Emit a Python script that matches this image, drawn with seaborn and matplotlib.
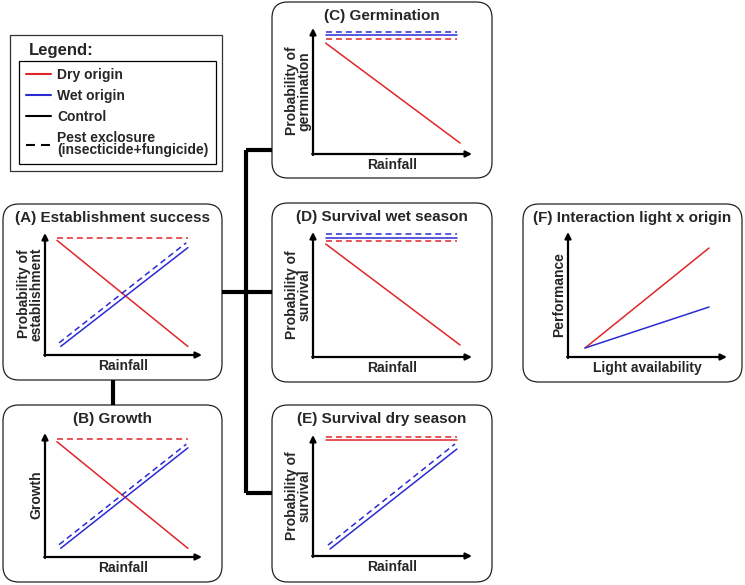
import matplotlib
matplotlib.use("Agg")
import matplotlib.pyplot as plt
from matplotlib.patches import FancyBboxPatch, Rectangle
from matplotlib.lines import Line2D
import seaborn as sns

sns.set_style("white")
plt.rcParams["font.family"] = ["Liberation Sans", "DejaVu Sans"]
plt.rcParams["font.weight"] = "bold"

RED = "#e0262a"
BLUE = "#2b2bd4"
DASH = (0, (3.9, 2.6))

# conceptual values, axes run 0..1 (origin to arrow tip)
# (A) establishment success
a_dry_ctrl_x, a_dry_ctrl_y = [0.076, 0.91], [0.94, 0.07]
a_dry_pest_x, a_dry_pest_y = [0.076, 0.91], [0.96, 0.96]
a_wet_ctrl_x, a_wet_ctrl_y = [0.10, 0.91], [0.07, 0.88]
a_wet_pest_x, a_wet_pest_y = [0.09, 0.90], [0.10, 0.92]

# (B) growth
b_dry_ctrl_x, b_dry_ctrl_y = [0.076, 0.91], [0.93, 0.07]
b_dry_pest_x, b_dry_pest_y = [0.076, 0.91], [0.95, 0.95]
b_wet_ctrl_x, b_wet_ctrl_y = [0.10, 0.91], [0.07, 0.88]
b_wet_pest_x, b_wet_pest_y = [0.09, 0.90], [0.10, 0.91]

# (C) germination
c_dry_ctrl_x, c_dry_ctrl_y = [0.08, 0.925], [0.88, 0.087]
c_dry_pest_x, c_dry_pest_y = [0.08, 0.905], [0.913, 0.913]
c_wet_ctrl_x, c_wet_ctrl_y = [0.08, 0.905], [0.947, 0.947]
c_wet_pest_x, c_wet_pest_y = [0.08, 0.905], [0.966, 0.966]

# (D) survival wet season
d_dry_ctrl_x, d_dry_ctrl_y = [0.08, 0.925], [0.904, 0.096]
d_dry_pest_x, d_dry_pest_y = [0.08, 0.905], [0.928, 0.928]
d_wet_ctrl_x, d_wet_ctrl_y = [0.08, 0.905], [0.952, 0.952]
d_wet_pest_x, d_wet_pest_y = [0.08, 0.905], [0.984, 0.984]

# (E) survival dry season
e_dry_ctrl_x, e_dry_ctrl_y = [0.08, 0.905], [0.96, 0.96]
e_dry_pest_x, e_dry_pest_y = [0.08, 0.905], [0.985, 0.985]
e_wet_ctrl_x, e_wet_ctrl_y = [0.107, 0.905], [0.058, 0.884]
e_wet_pest_x, e_wet_pest_y = [0.094, 0.893], [0.09, 0.926]

# (F) interaction light x origin
light = [0.107, 0.887]
f_dry = [0.072, 0.872]
f_wet = [0.072, 0.40]

W, H = 745, 585
fig = plt.figure(figsize=(W / 100, H / 100), dpi=100)
bg = fig.add_axes([0, 0, 1, 1])
bg.set_xlim(0, W)
bg.set_ylim(H, 0)
bg.axis("off")


def rbox(x0, y0, x1, y1):
    bg.add_patch(FancyBboxPatch((x0, y0), x1 - x0, y1 - y0,
                                boxstyle="round,pad=0,rounding_size=16",
                                fc="white", ec="#222222", lw=0.9))


def panel(px, xlabel, ylabel, series):
    x0, ytop, x1, ybot = px
    ax = fig.add_axes([x0 / W, 1 - ybot / H, (x1 - x0) / W, (ybot - ytop) / H])
    ax.patch.set_alpha(0)
    for xs, ys, col, ls in series:
        sns.lineplot(x=xs, y=ys, color=col, linestyle=ls, lw=1.1, ax=ax)
    ax.set_xlim(0, 1)
    ax.set_ylim(0, 1)
    ax.set_xticks([])
    ax.set_yticks([])
    for s in ax.spines.values():
        s.set_visible(False)
    arw = dict(arrowstyle="-|>", lw=1.6, color="black", mutation_scale=9,
               shrinkA=0, shrinkB=0)
    ax.annotate("", xy=(0, 1), xytext=(0, -0.008), xycoords="axes fraction",
                arrowprops=arw, annotation_clip=False)
    ax.annotate("", xy=(1, 0), xytext=(-0.005, 0), xycoords="axes fraction",
                arrowprops=arw, annotation_clip=False)
    ax.set_xlabel(xlabel, fontsize=10, fontweight="bold", labelpad=3)
    ax.set_ylabel(ylabel, fontsize=10, fontweight="bold", labelpad=1,
                  linespacing=0.9)
    return ax


# connectors
conn = dict(color="black", lw=3, solid_capstyle="butt")
bg.plot([113, 113], [380, 405], **conn)
bg.plot([246, 246], [150, 493], **conn)
bg.plot([222, 272], [292, 292], **conn)
bg.plot([246, 272], [150, 150], **conn)
bg.plot([246, 272], [493, 493], **conn)

# panel boxes and titles
boxes = {
    "(A) Establishment success": (3, 204, 222, 380, 222),
    "(B) Growth": (3, 405, 222, 582, 423),
    "(C) Germination": (272, 2, 492, 178, 20),
    "(D) Survival wet season": (272, 203, 492, 382, 221),
    "(E) Survival dry season": (272, 405, 492, 582, 423),
    "(F) Interaction light x origin": (523, 204, 742, 382, 222),
}
for title, (x0, y0, x1, y1, yb) in boxes.items():
    rbox(x0, y0, x1, y1)
    bg.text((x0 + x1) / 2, yb, title, ha="center", va="baseline",
            fontsize=11, fontweight="bold")

panel((45, 233, 202, 355), "Rainfall", "Probability of\nestablishment", [
    (a_dry_pest_x, a_dry_pest_y, RED, DASH),
    (a_dry_ctrl_x, a_dry_ctrl_y, RED, "-"),
    (a_wet_pest_x, a_wet_pest_y, BLUE, DASH),
    (a_wet_ctrl_x, a_wet_ctrl_y, BLUE, "-"),
])
panel((45, 433, 202, 557), "Rainfall", "Growth", [
    (b_dry_pest_x, b_dry_pest_y, RED, DASH),
    (b_dry_ctrl_x, b_dry_ctrl_y, RED, "-"),
    (b_wet_pest_x, b_wet_pest_y, BLUE, DASH),
    (b_wet_ctrl_x, b_wet_ctrl_y, BLUE, "-"),
])
panel((313, 28, 472, 154), "Rainfall", "Probability of\ngermination", [
    (c_wet_pest_x, c_wet_pest_y, BLUE, DASH),
    (c_wet_ctrl_x, c_wet_ctrl_y, BLUE, "-"),
    (c_dry_pest_x, c_dry_pest_y, RED, DASH),
    (c_dry_ctrl_x, c_dry_ctrl_y, RED, "-"),
])
panel((313, 232, 472, 357), "Rainfall", "Probability of\nsurvival", [
    (d_wet_pest_x, d_wet_pest_y, BLUE, DASH),
    (d_wet_ctrl_x, d_wet_ctrl_y, BLUE, "-"),
    (d_dry_pest_x, d_dry_pest_y, RED, DASH),
    (d_dry_ctrl_x, d_dry_ctrl_y, RED, "-"),
])
panel((313, 435, 472, 556), "Rainfall", "Probability of\nsurvival", [
    (e_dry_pest_x, e_dry_pest_y, RED, DASH),
    (e_dry_ctrl_x, e_dry_ctrl_y, RED, "-"),
    (e_wet_pest_x, e_wet_pest_y, BLUE, DASH),
    (e_wet_ctrl_x, e_wet_ctrl_y, BLUE, "-"),
])
panel((568, 232, 727, 357), "Light availability", "Performance", [
    (light, f_dry, RED, "-"),
    (light, f_wet, BLUE, "-"),
])

# legend
bg.add_patch(Rectangle((10, 35), 212, 136, fc="white", ec="#333333", lw=0.9))
bg.text(29, 55, "Legend:", fontsize=12, fontweight="bold", va="baseline")
handles = [
    Line2D([], [], color=RED, lw=1.5),
    Line2D([], [], color=BLUE, lw=1.5),
    Line2D([], [], color="black", lw=1.5),
    Line2D([], [], color="black", lw=1.5, linestyle=(0, (4.3, 2.9))),
]
labels = ["Dry origin", "Wet origin", "Control",
          "Pest exclosure\n(insecticide+fungicide)"]
leg = fig.legend(handles, labels, loc="upper left",
                 bbox_to_anchor=(19 / W, 1 - 61 / H),
                 prop={"size": 10, "weight": "bold"},
                 fancybox=False, edgecolor="black", framealpha=1,
                 handlelength=1.8, handletextpad=0.45, labelspacing=0.5,
                 borderpad=0.5, borderaxespad=0)
leg.get_frame().set_linewidth(0.9)
for t in leg.get_texts():
    t.set_linespacing(0.85)

fig.savefig("out.png", dpi=100)
